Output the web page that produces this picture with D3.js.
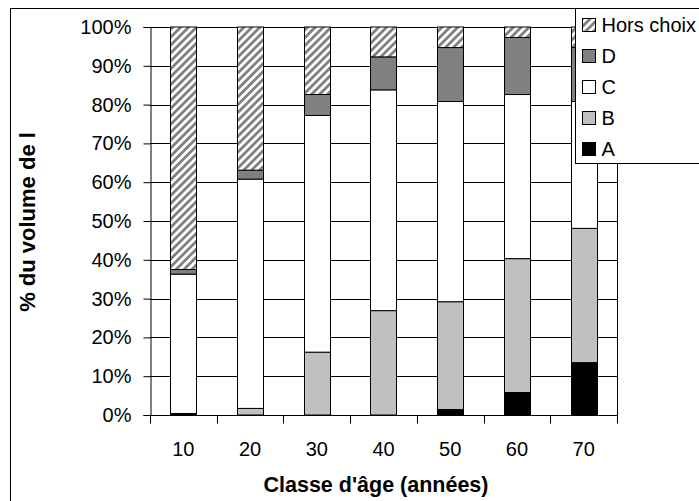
<!DOCTYPE html>
<html>
<head>
<meta charset="utf-8">
<script src="https://cdn.jsdelivr.net/npm/d3@7/dist/d3.min.js"></script>
<style>
  body { margin: 0; background: #fff; }
  text { font-family: "Liberation Sans", Arial, sans-serif; fill: #000; }
</style>
</head>
<body>
<script>
// Age classes and share of volume per grade (percent)
var classes = ["10", "20", "30", "40", "50", "60", "70"];
var gradeA = [0.4, 0, 0, 0, 1.4, 5.8, 13.5];
var gradeB = [0, 1.7, 16.2, 26.9, 27.8, 34.5, 34.6];
var gradeC = [35.9, 59.1, 61.0, 56.9, 51.6, 42.3, 32.7];
var gradeD = [1.2, 2.3, 5.4, 8.5, 13.9, 14.7, 13.9];
var horsChoix = [62.5, 36.9, 17.4, 7.7, 5.3, 2.7, 5.3];
var yTicks = [0, 10, 20, 30, 40, 50, 60, 70, 80, 90, 100];

var keys = ["A", "B", "C", "D", "Hors choix"];
var colors = { "A": "#000000", "B": "#c0c0c0", "C": "#ffffff", "D": "#808080", "Hors choix": "url(#hatch)" };

var w = 699, h = 501;
var pLeft = 150, pRight = 617, pTop = 27, pBottom = 415;

var svg = d3.select("body").append("svg")
    .attr("width", w)
    .attr("height", h);

// Diagonal hatch for "Hors choix"
var pat = svg.append("defs").append("pattern")
    .attr("id", "hatch")
    .attr("patternUnits", "userSpaceOnUse")
    .attr("width", 5.6)
    .attr("height", 5.6)
    .attr("patternTransform", "rotate(45)");
pat.append("rect").attr("width", 5.6).attr("height", 5.6).attr("fill", "#fff");
pat.append("rect").attr("width", 2.8).attr("height", 5.6).attr("fill", "#808080");

// Chart frame
svg.append("rect")
    .attr("x", 10.5).attr("y", 8.5)
    .attr("width", 720).attr("height", 520)
    .attr("fill", "#fff").attr("stroke", "#000");

var x = d3.scaleBand()
    .domain(classes)
    .range([pLeft, pRight])
    .paddingInner(0.61)
    .paddingOuter(0.305);

var xb = d3.scaleBand().domain(classes).range([pLeft, pRight]);

var y = d3.scaleLinear()
    .domain([0, 100])
    .range([pBottom, pTop]);

// Grid lines
svg.append("g")
    .selectAll("line")
    .data(yTicks)
    .enter()
    .append("line")
    .attr("x1", pLeft).attr("x2", pRight)
    .attr("y1", function(d){ return Math.round(y(d)) + 0.5; })
    .attr("y2", function(d){ return Math.round(y(d)) + 0.5; })
    .attr("stroke", "#000");

svg.append("line")
    .attr("x1", pRight + 0.5).attr("x2", pRight + 0.5)
    .attr("y1", pTop).attr("y2", pBottom)
    .attr("stroke", "#000");

// Stacked bars
var table = classes.map(function(c, i){
    return { cls: c, "A": gradeA[i], "B": gradeB[i], "C": gradeC[i], "D": gradeD[i], "Hors choix": horsChoix[i] };
});
var series = d3.stack().keys(keys)(table);

svg.append("g")
    .selectAll("g")
    .data(series)
    .enter()
    .append("g")
    .attr("fill", function(s){ return colors[s.key]; })
    .selectAll("rect")
    .data(function(s){ return s.filter(function(d){ return d[1] - d[0] > 0; }); })
    .enter()
    .append("rect")
    .attr("x", function(d){ return Math.round(x(d.data.cls)) + 0.5; })
    .attr("width", Math.round(x.bandwidth()))
    .attr("y", function(d){ return y(d[1]); })
    .attr("height", function(d){ return y(d[0]) - y(d[1]); })
    .attr("stroke", "#000")
    .attr("stroke-width", 1);

// Y axis
var yAxis = d3.axisLeft(y)
    .tickValues(yTicks)
    .tickSize(7)
    .tickPadding(12)
    .tickFormat(function(d){ return d + "%"; });

var ya = svg.append("g")
    .attr("transform", "translate(" + (pLeft + 0.5) + ",0)")
    .call(yAxis);
ya.selectAll("text").style("font-size", "20px").style("font-family", "Liberation Sans, Arial, sans-serif");
ya.selectAll(".tick line").attr("stroke", "#000");
ya.select(".domain").attr("stroke", "#000");

// X axis with ticks between categories
var xAxis = d3.axisBottom(xb)
    .tickSize(0)
    .tickPadding(26);

var xa = svg.append("g")
    .attr("transform", "translate(0," + (pBottom + 0.5) + ")")
    .call(xAxis);
xa.select(".domain").remove();
xa.selectAll("text").style("font-size", "20px").style("font-family", "Liberation Sans, Arial, sans-serif");

xa.selectAll(".sep")
    .data(d3.range(classes.length + 1))
    .enter()
    .append("line")
    .attr("x1", function(i){ return Math.round(pLeft + i * xb.step()) + 0.5; })
    .attr("x2", function(i){ return Math.round(pLeft + i * xb.step()) + 0.5; })
    .attr("y1", 0).attr("y2", 8)
    .attr("stroke", "#000");
svg.append("line")
    .attr("x1", pLeft).attr("x2", pRight + 1)
    .attr("y1", pBottom + 0.5).attr("y2", pBottom + 0.5)
    .attr("stroke", "#000");

// Axis titles
svg.append("text")
    .attr("x", 376)
    .attr("y", 492)
    .attr("text-anchor", "middle")
    .style("font-size", "21.5px")
    .style("font-weight", "bold")
    .text("Classe d'âge (années)");

svg.append("text")
    .attr("transform", "translate(35,222) rotate(-90)")
    .attr("text-anchor", "middle")
    .style("font-size", "22px")
    .style("font-weight", "bold")
    .text("% du volume de l");

// Legend
var legend = svg.append("g");
legend.append("rect")
    .attr("x", 575.5).attr("y", 8.5)
    .attr("width", 200).attr("height", 155)
    .attr("fill", "#fff").attr("stroke", "#000");

var items = legend.selectAll(".item")
    .data(keys.slice().reverse())
    .enter()
    .append("g")
    .attr("transform", function(d, i){ return "translate(582," + (25 + i * 31) + ")"; });

items.append("rect")
    .attr("x", 0.5).attr("y", -6.5)
    .attr("width", 13).attr("height", 13)
    .attr("fill", function(d){ return colors[d]; })
    .attr("stroke", "#000");

items.append("text")
    .attr("x", 19.5)
    .attr("y", 7)
    .style("font-size", "20px")
    .text(function(d){ return d; });
</script>
</body>
</html>
